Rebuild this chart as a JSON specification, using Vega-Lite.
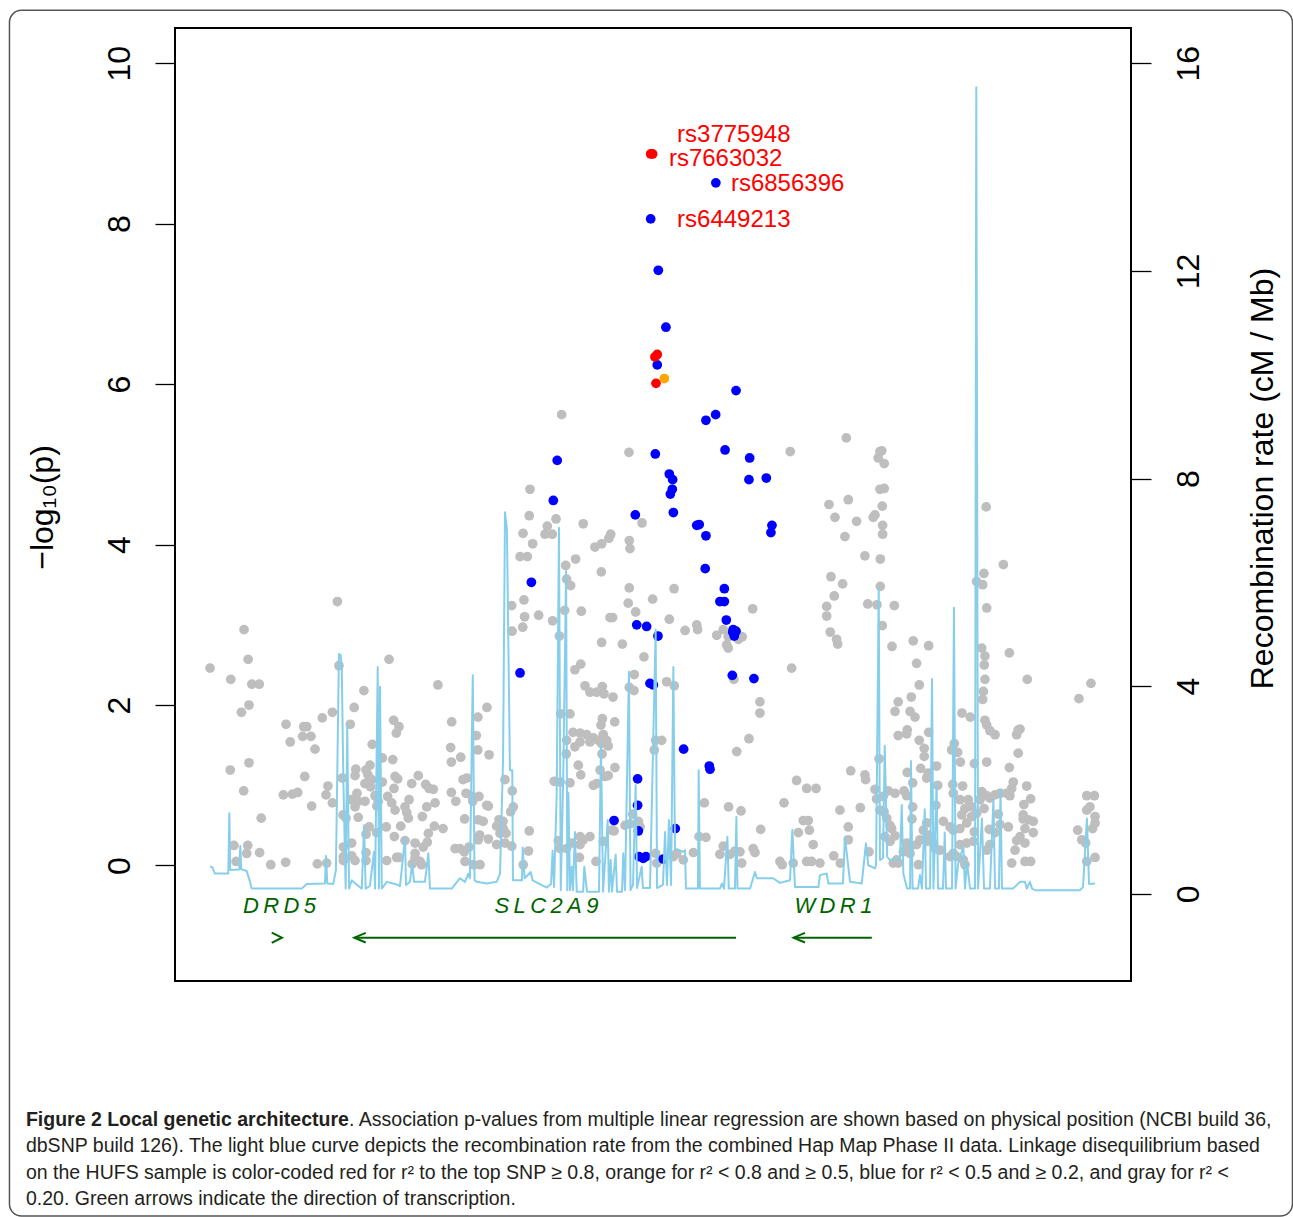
{
  "$schema": "https://vega.github.io/schema/vega-lite/v6.json",
  "width": 956,
  "height": 953,
  "autosize": {"type": "none"},
  "padding": {"left": 175, "top": 28, "right": 162, "bottom": 236},
  "background": "white",
  "datasets": {
    "snps": [
      {"kb":9425.7,"logp":3.29,"ld":"<0.2"},{"kb":9373.0,"logp":2.94,"ld":"<0.2"},{"kb":9375.3,"logp":2.57,"ld":"<0.2"},{"kb":9454.9,"logp":2.57,"ld":"<0.2"},{"kb":9353.8,"logp":2.46,"ld":"<0.2"},{"kb":9426.6,"logp":2.49,"ld":"<0.2"},{"kb":9365.5,"logp":2.32,"ld":"<0.2"},{"kb":9377.4,"logp":2.26,"ld":"<0.2"},{"kb":9381.6,"logp":2.26,"ld":"<0.2"},{"kb":9440.7,"logp":2.18,"ld":"<0.2"},
      {"kb":9482.5,"logp":2.25,"ld":"<0.2"},{"kb":9375.8,"logp":2.00,"ld":"<0.2"},{"kb":9371.5,"logp":1.91,"ld":"<0.2"},{"kb":9435.2,"logp":1.97,"ld":"<0.2"},{"kb":9422.9,"logp":1.91,"ld":"<0.2"},{"kb":9417.2,"logp":1.84,"ld":"<0.2"},{"kb":9510.2,"logp":1.97,"ld":"<0.2"},{"kb":9505.1,"logp":1.85,"ld":"<0.2"},{"kb":9396.7,"logp":1.76,"ld":"<0.2"},{"kb":9406.7,"logp":1.73,"ld":"<0.2"},
      {"kb":9408.4,"logp":1.73,"ld":"<0.2"},{"kb":9433.0,"logp":1.76,"ld":"<0.2"},{"kb":9457.5,"logp":1.81,"ld":"<0.2"},{"kb":9460.5,"logp":1.73,"ld":"<0.2"},{"kb":9459.0,"logp":1.65,"ld":"<0.2"},{"kb":9490.3,"logp":1.79,"ld":"<0.2"},{"kb":9406.1,"logp":1.61,"ld":"<0.2"},{"kb":9410.8,"logp":1.61,"ld":"<0.2"},{"kb":9399.1,"logp":1.54,"ld":"<0.2"},{"kb":9504.2,"logp":1.62,"ld":"<0.2"},
      {"kb":9413.1,"logp":1.45,"ld":"<0.2"},{"kb":9445.4,"logp":1.51,"ld":"<0.2"},{"kb":9505.0,"logp":1.44,"ld":"<0.2"},{"kb":9489.7,"logp":1.47,"ld":"<0.2"},{"kb":9511.4,"logp":1.38,"ld":"<0.2"},{"kb":9495.4,"logp":1.35,"ld":"<0.2"},{"kb":9490.1,"logp":1.29,"ld":"<0.2"},{"kb":9375.8,"logp":1.28,"ld":"<0.2"},{"kb":9365.2,"logp":1.19,"ld":"<0.2"},{"kb":9451.1,"logp":1.34,"ld":"<0.2"},
      {"kb":9457.0,"logp":1.32,"ld":"<0.2"},{"kb":9444.1,"logp":1.25,"ld":"<0.2"},{"kb":9441.9,"logp":1.19,"ld":"<0.2"},{"kb":9436.1,"logp":1.20,"ld":"<0.2"},{"kb":9435.7,"logp":1.12,"ld":"<0.2"},{"kb":9443.0,"logp":1.13,"ld":"<0.2"},{"kb":9445.1,"logp":1.07,"ld":"<0.2"},{"kb":9441.3,"logp":1.02,"ld":"<0.2"},{"kb":9444.5,"logp":0.98,"ld":"<0.2"},{"kb":9451.1,"logp":1.04,"ld":"<0.2"},
      {"kb":9407.3,"logp":1.11,"ld":"<0.2"},{"kb":9428.5,"logp":1.09,"ld":"<0.2"},{"kb":9458.3,"logp":1.11,"ld":"<0.2"},{"kb":9459.8,"logp":1.08,"ld":"<0.2"},{"kb":9457.7,"logp":0.96,"ld":"<0.2"},{"kb":9471.4,"logp":1.12,"ld":"<0.2"},{"kb":9467.7,"logp":1.02,"ld":"<0.2"},{"kb":9475.6,"logp":1.01,"ld":"<0.2"},{"kb":9479.9,"logp":0.95,"ld":"<0.2"},{"kb":9477.5,"logp":0.96,"ld":"<0.2"},
      {"kb":9372.8,"logp":0.93,"ld":"<0.2"},{"kb":9395.2,"logp":0.88,"ld":"<0.2"},{"kb":9400.3,"logp":0.89,"ld":"<0.2"},{"kb":9403.3,"logp":0.91,"ld":"<0.2"},{"kb":9420.4,"logp":0.99,"ld":"<0.2"},{"kb":9419.3,"logp":0.88,"ld":"<0.2"},{"kb":9436.8,"logp":0.90,"ld":"<0.2"},{"kb":9433.4,"logp":0.82,"ld":"<0.2"},{"kb":9437.4,"logp":0.80,"ld":"<0.2"},{"kb":9441.3,"logp":0.80,"ld":"<0.2"},
      {"kb":9435.7,"logp":0.73,"ld":"<0.2"},{"kb":9447.0,"logp":0.87,"ld":"<0.2"},{"kb":9448.8,"logp":0.80,"ld":"<0.2"},{"kb":9454.1,"logp":0.86,"ld":"<0.2"},{"kb":9456.4,"logp":0.78,"ld":"<0.2"},{"kb":9458.3,"logp":0.69,"ld":"<0.2"},{"kb":9448.0,"logp":0.74,"ld":"<0.2"},{"kb":9466.2,"logp":0.82,"ld":"<0.2"},{"kb":9463.9,"logp":0.73,"ld":"<0.2"},{"kb":9464.9,"logp":0.66,"ld":"<0.2"},
      {"kb":9465.8,"logp":0.59,"ld":"<0.2"},{"kb":9476.2,"logp":0.73,"ld":"<0.2"},{"kb":9480.9,"logp":0.78,"ld":"<0.2"},{"kb":9473.7,"logp":0.61,"ld":"<0.2"},{"kb":9490.1,"logp":0.91,"ld":"<0.2"},{"kb":9492.6,"logp":0.80,"ld":"<0.2"},{"kb":9496.7,"logp":1.07,"ld":"<0.2"},{"kb":9498.9,"logp":1.09,"ld":"<0.2"},{"kb":9498.4,"logp":0.90,"ld":"<0.2"},{"kb":9501.9,"logp":0.86,"ld":"<0.2"},
      {"kb":9505.7,"logp":0.86,"ld":"<0.2"},{"kb":9502.2,"logp":0.80,"ld":"<0.2"},{"kb":9510.1,"logp":0.75,"ld":"<0.2"},{"kb":9511.0,"logp":0.74,"ld":"<0.2"},{"kb":9411.2,"logp":0.74,"ld":"<0.2"},{"kb":9422.9,"logp":0.78,"ld":"<0.2"},{"kb":9382.7,"logp":0.59,"ld":"<0.2"},{"kb":9428.9,"logp":0.63,"ld":"<0.2"},{"kb":9430.6,"logp":0.59,"ld":"<0.2"},{"kb":9437.5,"logp":0.60,"ld":"<0.2"},
      {"kb":9443.7,"logp":0.48,"ld":"<0.2"},{"kb":9441.9,"logp":0.39,"ld":"<0.2"},{"kb":9447.9,"logp":0.41,"ld":"<0.2"},{"kb":9453.3,"logp":0.48,"ld":"<0.2"},{"kb":9461.5,"logp":0.49,"ld":"<0.2"},{"kb":9480.5,"logp":0.49,"ld":"<0.2"},{"kb":9485.4,"logp":0.46,"ld":"<0.2"},{"kb":9497.6,"logp":0.58,"ld":"<0.2"},{"kb":9505.3,"logp":0.57,"ld":"<0.2"},{"kb":9508.1,"logp":0.55,"ld":"<0.2"},
      {"kb":9517.0,"logp":0.57,"ld":"<0.2"},{"kb":9519.3,"logp":0.55,"ld":"<0.2"},{"kb":9457.9,"logp":0.36,"ld":"<0.2"},{"kb":9463.9,"logp":0.31,"ld":"<0.2"},{"kb":9469.6,"logp":0.28,"ld":"<0.2"},{"kb":9474.2,"logp":0.23,"ld":"<0.2"},{"kb":9477.1,"logp":0.40,"ld":"<0.2"},{"kb":9476.5,"logp":0.29,"ld":"<0.2"},{"kb":9506.1,"logp":0.38,"ld":"<0.2"},{"kb":9505.3,"logp":0.32,"ld":"<0.2"},
      {"kb":9511.0,"logp":0.33,"ld":"<0.2"},{"kb":9515.7,"logp":0.26,"ld":"<0.2"},{"kb":9517.6,"logp":0.40,"ld":"<0.2"},{"kb":9367.3,"logp":0.25,"ld":"<0.2"},{"kb":9375.1,"logp":0.25,"ld":"<0.2"},{"kb":9374.5,"logp":0.15,"ld":"<0.2"},{"kb":9381.8,"logp":0.16,"ld":"<0.2"},{"kb":9368.5,"logp":0.05,"ld":"<0.2"},{"kb":9388.1,"logp":0.01,"ld":"<0.2"},{"kb":9396.5,"logp":0.04,"ld":"<0.2"},
      {"kb":9414.4,"logp":0.02,"ld":"<0.2"},{"kb":9419.7,"logp":0.03,"ld":"<0.2"},{"kb":9429.1,"logp":0.23,"ld":"<0.2"},{"kb":9433.8,"logp":0.28,"ld":"<0.2"},{"kb":9429.1,"logp":0.11,"ld":"<0.2"},{"kb":9433.8,"logp":0.12,"ld":"<0.2"},{"kb":9429.1,"logp":0.06,"ld":"<0.2"},{"kb":9435.7,"logp":0.06,"ld":"<0.2"},{"kb":9441.9,"logp":0.16,"ld":"<0.2"},{"kb":9441.9,"logp":0.06,"ld":"<0.2"},
      {"kb":9453.6,"logp":0.06,"ld":"<0.2"},{"kb":9459.2,"logp":0.10,"ld":"<0.2"},{"kb":9460.5,"logp":0.10,"ld":"<0.2"},{"kb":9469.6,"logp":0.15,"ld":"<0.2"},{"kb":9469.6,"logp":0.09,"ld":"<0.2"},{"kb":9472.4,"logp":0.05,"ld":"<0.2"},{"kb":9473.3,"logp":0.01,"ld":"<0.2"},{"kb":9468.0,"logp":0.02,"ld":"<0.2"},{"kb":9492.2,"logp":0.21,"ld":"<0.2"},{"kb":9495.0,"logp":0.21,"ld":"<0.2"},
      {"kb":9497.4,"logp":0.17,"ld":"<0.2"},{"kb":9500.1,"logp":0.23,"ld":"<0.2"},{"kb":9497.8,"logp":0.05,"ld":"<0.2"},{"kb":9502.5,"logp":0.01,"ld":"<0.2"},{"kb":9506.3,"logp":0.01,"ld":"<0.2"},
      {"kb":9552.4,"logp":5.62,"ld":"<0.2"},{"kb":9590.4,"logp":5.15,"ld":"<0.2"},{"kb":9681.5,"logp":5.16,"ld":"<0.2"},{"kb":9534.5,"logp":4.69,"ld":"<0.2"},{"kb":9534.1,"logp":4.36,"ld":"<0.2"},{"kb":9549.2,"logp":4.32,"ld":"<0.2"},{"kb":9544.3,"logp":4.23,"ld":"<0.2"},{"kb":9543.0,"logp":4.13,"ld":"<0.2"},{"kb":9547.1,"logp":4.13,"ld":"<0.2"},{"kb":9530.6,"logp":4.14,"ld":"<0.2"},
      {"kb":9536.0,"logp":4.01,"ld":"<0.2"},{"kb":9564.6,"logp":4.26,"ld":"<0.2"},{"kb":9580.1,"logp":4.13,"ld":"<0.2"},{"kb":9579.1,"logp":4.08,"ld":"<0.2"},{"kb":9575.0,"logp":4.01,"ld":"<0.2"},{"kb":9571.2,"logp":3.97,"ld":"<0.2"},{"kb":9590.6,"logp":4.05,"ld":"<0.2"},{"kb":9591.0,"logp":3.95,"ld":"<0.2"},{"kb":9597.8,"logp":4.27,"ld":"<0.2"},{"kb":9528.9,"logp":3.85,"ld":"<0.2"},
      {"kb":9533.0,"logp":3.85,"ld":"<0.2"},{"kb":9560.3,"logp":3.82,"ld":"<0.2"},{"kb":9554.7,"logp":3.74,"ld":"<0.2"},{"kb":9574.8,"logp":3.66,"ld":"<0.2"},{"kb":9555.2,"logp":3.57,"ld":"<0.2"},{"kb":9557.5,"logp":3.49,"ld":"<0.2"},{"kb":9590.6,"logp":3.46,"ld":"<0.2"},{"kb":9615.9,"logp":3.45,"ld":"<0.2"},{"kb":9524.2,"logp":3.24,"ld":"<0.2"},{"kb":9531.1,"logp":3.31,"ld":"<0.2"},
      {"kb":9590.0,"logp":3.27,"ld":"<0.2"},{"kb":9594.2,"logp":3.16,"ld":"<0.2"},{"kb":9603.8,"logp":3.32,"ld":"<0.2"},{"kb":9563.5,"logp":3.17,"ld":"<0.2"},{"kb":9554.1,"logp":3.18,"ld":"<0.2"},{"kb":9531.5,"logp":3.10,"ld":"<0.2"},{"kb":9530.4,"logp":2.97,"ld":"<0.2"},{"kb":9539.4,"logp":3.12,"ld":"<0.2"},{"kb":9547.3,"logp":3.05,"ld":"<0.2"},{"kb":9524.4,"logp":2.92,"ld":"<0.2"},
      {"kb":9551.1,"logp":2.86,"ld":"<0.2"},{"kb":9579.7,"logp":3.09,"ld":"<0.2"},{"kb":9581.2,"logp":3.09,"ld":"<0.2"},{"kb":9613.2,"logp":3.07,"ld":"<0.2"},{"kb":9622.1,"logp":2.93,"ld":"<0.2"},{"kb":9628.7,"logp":3.00,"ld":"<0.2"},{"kb":9629.2,"logp":2.94,"ld":"<0.2"},{"kb":9640.0,"logp":2.87,"ld":"<0.2"},{"kb":9643.7,"logp":2.94,"ld":"<0.2"},{"kb":9646.5,"logp":2.85,"ld":"<0.2"},
      {"kb":9645.6,"logp":2.75,"ld":"<0.2"},{"kb":9646.5,"logp":2.71,"ld":"<0.2"},{"kb":9654.4,"logp":2.85,"ld":"<0.2"},{"kb":9652.2,"logp":2.82,"ld":"<0.2"},{"kb":9660.3,"logp":3.20,"ld":"<0.2"},{"kb":9575.0,"logp":2.78,"ld":"<0.2"},{"kb":9586.7,"logp":2.76,"ld":"<0.2"},{"kb":9598.9,"logp":2.60,"ld":"<0.2"},{"kb":9563.2,"logp":2.51,"ld":"<0.2"},{"kb":9559.9,"logp":2.44,"ld":"<0.2"},
      {"kb":9593.4,"logp":2.38,"ld":"<0.2"},{"kb":9590.6,"logp":2.22,"ld":"<0.2"},{"kb":9593.3,"logp":2.18,"ld":"<0.2"},{"kb":9611.7,"logp":2.29,"ld":"<0.2"},{"kb":9616.0,"logp":2.24,"ld":"<0.2"},{"kb":9682.3,"logp":2.46,"ld":"<0.2"},{"kb":9649.7,"logp":2.32,"ld":"<0.2"},{"kb":9565.6,"logp":2.24,"ld":"<0.2"},{"kb":9568.4,"logp":2.16,"ld":"<0.2"},{"kb":9572.2,"logp":2.16,"ld":"<0.2"},
      {"kb":9575.4,"logp":2.23,"ld":"<0.2"},{"kb":9576.3,"logp":2.14,"ld":"<0.2"},{"kb":9581.4,"logp":2.10,"ld":"<0.2"},{"kb":9551.9,"logp":1.89,"ld":"<0.2"},{"kb":9557.1,"logp":1.89,"ld":"<0.2"},{"kb":9575.4,"logp":1.83,"ld":"<0.2"},{"kb":9574.6,"logp":1.75,"ld":"<0.2"},{"kb":9582.4,"logp":1.79,"ld":"<0.2"},{"kb":9558.8,"logp":1.66,"ld":"<0.2"},{"kb":9562.8,"logp":1.65,"ld":"<0.2"},
      {"kb":9566.5,"logp":1.63,"ld":"<0.2"},{"kb":9570.3,"logp":1.59,"ld":"<0.2"},{"kb":9573.1,"logp":1.56,"ld":"<0.2"},{"kb":9575.9,"logp":1.63,"ld":"<0.2"},{"kb":9577.8,"logp":1.56,"ld":"<0.2"},{"kb":9578.7,"logp":1.49,"ld":"<0.2"},{"kb":9575.0,"logp":1.52,"ld":"<0.2"},{"kb":9568.4,"logp":1.54,"ld":"<0.2"},{"kb":9562.8,"logp":1.54,"ld":"<0.2"},{"kb":9555.2,"logp":1.56,"ld":"<0.2"},
      {"kb":9559.9,"logp":1.48,"ld":"<0.2"},{"kb":9664.4,"logp":2.04,"ld":"<0.2"},{"kb":9664.4,"logp":1.90,"ld":"<0.2"},{"kb":9658.2,"logp":1.58,"ld":"<0.2"},{"kb":9651.3,"logp":1.42,"ld":"<0.2"},{"kb":9605.5,"logp":1.56,"ld":"<0.2"},{"kb":9608.9,"logp":1.56,"ld":"<0.2"},{"kb":9604.7,"logp":1.44,"ld":"<0.2"},{"kb":9555.0,"logp":1.39,"ld":"<0.2"},{"kb":9575.2,"logp":1.39,"ld":"<0.2"},
      {"kb":9561.8,"logp":1.25,"ld":"<0.2"},{"kb":9563.2,"logp":1.13,"ld":"<0.2"},{"kb":9574.1,"logp":1.19,"ld":"<0.2"},{"kb":9576.9,"logp":1.11,"ld":"<0.2"},{"kb":9578.7,"logp":1.12,"ld":"<0.2"},{"kb":9582.5,"logp":1.22,"ld":"<0.2"},{"kb":9570.3,"logp":1.00,"ld":"<0.2"},{"kb":9572.2,"logp":1.02,"ld":"<0.2"},{"kb":9548.2,"logp":1.05,"ld":"<0.2"},{"kb":9551.5,"logp":1.04,"ld":"<0.2"},
      {"kb":9557.1,"logp":1.03,"ld":"<0.2"},{"kb":9520.4,"logp":1.07,"ld":"<0.2"},{"kb":9524.5,"logp":0.93,"ld":"<0.2"},{"kb":9525.1,"logp":0.73,"ld":"<0.2"},{"kb":9523.6,"logp":0.67,"ld":"<0.2"},{"kb":9515.7,"logp":0.49,"ld":"<0.2"},{"kb":9519.4,"logp":0.46,"ld":"<0.2"},{"kb":9521.0,"logp":0.40,"ld":"<0.2"},{"kb":9520.4,"logp":0.28,"ld":"<0.2"},{"kb":9524.2,"logp":0.24,"ld":"<0.2"},
      {"kb":9534.1,"logp":0.43,"ld":"<0.2"},{"kb":9533.6,"logp":0.18,"ld":"<0.2"},{"kb":9530.7,"logp":0.01,"ld":"<0.2"},{"kb":9550.5,"logp":0.31,"ld":"<0.2"},{"kb":9551.5,"logp":0.21,"ld":"<0.2"},{"kb":9555.2,"logp":0.21,"ld":"<0.2"},{"kb":9558.1,"logp":0.28,"ld":"<0.2"},{"kb":9562.8,"logp":0.36,"ld":"<0.2"},{"kb":9564.6,"logp":0.32,"ld":"<0.2"},{"kb":9568.4,"logp":0.36,"ld":"<0.2"},
      {"kb":9562.8,"logp":0.26,"ld":"<0.2"},{"kb":9562.4,"logp":0.10,"ld":"<0.2"},{"kb":9571.8,"logp":0.05,"ld":"<0.2"},{"kb":9575.9,"logp":0.30,"ld":"<0.2"},{"kb":9580.7,"logp":0.44,"ld":"<0.2"},{"kb":9582.0,"logp":0.43,"ld":"<0.2"},{"kb":9588.2,"logp":0.50,"ld":"<0.2"},{"kb":9591.0,"logp":0.52,"ld":"<0.2"},{"kb":9592.5,"logp":0.64,"ld":"<0.2"},{"kb":9595.7,"logp":0.55,"ld":"<0.2"},
      {"kb":9596.7,"logp":0.48,"ld":"<0.2"},{"kb":9605.5,"logp":0.15,"ld":"<0.2"},{"kb":9606.1,"logp":0.03,"ld":"<0.2"},{"kb":9615.5,"logp":0.11,"ld":"<0.2"},{"kb":9621.1,"logp":0.07,"ld":"<0.2"},{"kb":9617.4,"logp":0.15,"ld":"<0.2"},{"kb":9626.8,"logp":0.16,"ld":"<0.2"},{"kb":9633.0,"logp":0.78,"ld":"<0.2"},{"kb":9630.0,"logp":0.36,"ld":"<0.2"},{"kb":9633.9,"logp":0.35,"ld":"<0.2"},
      {"kb":9643.7,"logp":0.24,"ld":"<0.2"},{"kb":9641.8,"logp":0.14,"ld":"<0.2"},{"kb":9647.5,"logp":0.14,"ld":"<0.2"},{"kb":9650.3,"logp":0.18,"ld":"<0.2"},{"kb":9653.1,"logp":0.17,"ld":"<0.2"},{"kb":9654.1,"logp":0.03,"ld":"<0.2"},{"kb":9660.6,"logp":0.21,"ld":"<0.2"},{"kb":9661.6,"logp":0.16,"ld":"<0.2"},{"kb":9646.7,"logp":0.73,"ld":"<0.2"},{"kb":9653.7,"logp":0.68,"ld":"<0.2"},
      {"kb":9664.8,"logp":0.45,"ld":"<0.2"},{"kb":9678.0,"logp":0.78,"ld":"<0.2"},{"kb":9685.1,"logp":1.06,"ld":"<0.2"},{"kb":9690.8,"logp":0.96,"ld":"<0.2"},{"kb":9696.1,"logp":0.96,"ld":"<0.2"},{"kb":9688.9,"logp":0.56,"ld":"<0.2"},{"kb":9691.7,"logp":0.56,"ld":"<0.2"},{"kb":9692.3,"logp":0.44,"ld":"<0.2"},{"kb":9694.5,"logp":0.26,"ld":"<0.2"},{"kb":9675.7,"logp":0.05,"ld":"<0.2"},
      {"kb":9677.0,"logp":0.01,"ld":"<0.2"},{"kb":9683.2,"logp":0.03,"ld":"<0.2"},{"kb":9690.8,"logp":0.05,"ld":"<0.2"},{"kb":9693.6,"logp":0.05,"ld":"<0.2"},{"kb":9686.1,"logp":0.41,"ld":"<0.2"},
      {"kb":9713.2,"logp":5.33,"ld":"<0.2"},{"kb":9732.2,"logp":5.16,"ld":"<0.2"},{"kb":9731.2,"logp":5.08,"ld":"<0.2"},{"kb":9734.6,"logp":5.01,"ld":"<0.2"},{"kb":9733.2,"logp":5.17,"ld":"<0.2"},{"kb":9732.2,"logp":4.69,"ld":"<0.2"},{"kb":9734.6,"logp":4.70,"ld":"<0.2"},{"kb":9703.4,"logp":4.50,"ld":"<0.2"},{"kb":9714.3,"logp":4.56,"ld":"<0.2"},{"kb":9706.8,"logp":4.34,"ld":"<0.2"},
      {"kb":9719.0,"logp":4.29,"ld":"<0.2"},{"kb":9733.5,"logp":4.48,"ld":"<0.2"},{"kb":9729.4,"logp":4.37,"ld":"<0.2"},{"kb":9728.4,"logp":4.34,"ld":"<0.2"},{"kb":9733.7,"logp":4.24,"ld":"<0.2"},{"kb":9733.7,"logp":4.13,"ld":"<0.2"},{"kb":9712.4,"logp":4.10,"ld":"<0.2"},{"kb":9792.2,"logp":4.47,"ld":"<0.2"},{"kb":9723.7,"logp":3.86,"ld":"<0.2"},{"kb":9732.4,"logp":3.82,"ld":"<0.2"},
      {"kb":9704.5,"logp":3.60,"ld":"<0.2"},{"kb":9711.1,"logp":3.51,"ld":"<0.2"},{"kb":9732.4,"logp":3.48,"ld":"<0.2"},{"kb":9706.4,"logp":3.36,"ld":"<0.2"},{"kb":9702.1,"logp":3.23,"ld":"<0.2"},{"kb":9702.1,"logp":3.11,"ld":"<0.2"},{"kb":9725.3,"logp":3.26,"ld":"<0.2"},{"kb":9730.5,"logp":3.25,"ld":"<0.2"},{"kb":9740.3,"logp":3.24,"ld":"<0.2"},{"kb":9733.5,"logp":2.99,"ld":"<0.2"},
      {"kb":9704.1,"logp":2.91,"ld":"<0.2"},{"kb":9707.7,"logp":2.82,"ld":"<0.2"},{"kb":9708.3,"logp":2.76,"ld":"<0.2"},{"kb":9801.9,"logp":3.75,"ld":"<0.2"},{"kb":9790.9,"logp":3.64,"ld":"<0.2"},{"kb":9786.8,"logp":3.54,"ld":"<0.2"},{"kb":9790.2,"logp":3.50,"ld":"<0.2"},{"kb":9792.5,"logp":3.21,"ld":"<0.2"},{"kb":9739.0,"logp":2.73,"ld":"<0.2"},{"kb":9751.0,"logp":2.80,"ld":"<0.2"},
      {"kb":9759.7,"logp":2.74,"ld":"<0.2"},{"kb":9752.9,"logp":2.52,"ld":"<0.2"},{"kb":9805.3,"logp":2.65,"ld":"<0.2"},{"kb":9789.7,"logp":2.71,"ld":"<0.2"},{"kb":9791.5,"logp":2.61,"ld":"<0.2"},{"kb":9791.1,"logp":2.50,"ld":"<0.2"},{"kb":9791.5,"logp":2.32,"ld":"<0.2"},{"kb":9790.6,"logp":2.17,"ld":"<0.2"},{"kb":9790.2,"logp":2.07,"ld":"<0.2"},{"kb":9815.4,"logp":2.32,"ld":"<0.2"},
      {"kb":9754.4,"logp":2.25,"ld":"<0.2"},{"kb":9749.9,"logp":2.10,"ld":"<0.2"},{"kb":9742.5,"logp":2.04,"ld":"<0.2"},{"kb":9740.7,"logp":1.92,"ld":"<0.2"},{"kb":9749.2,"logp":1.92,"ld":"<0.2"},{"kb":9752.0,"logp":1.85,"ld":"<0.2"},{"kb":9778.5,"logp":1.90,"ld":"<0.2"},{"kb":9783.2,"logp":1.85,"ld":"<0.2"},{"kb":9844.6,"logp":2.08,"ld":"<0.2"},{"kb":9851.4,"logp":2.27,"ld":"<0.2"},
      {"kb":9742.5,"logp":1.62,"ld":"<0.2"},{"kb":9747.6,"logp":1.69,"ld":"<0.2"},{"kb":9747.3,"logp":1.64,"ld":"<0.2"},{"kb":9759.7,"logp":1.66,"ld":"<0.2"},{"kb":9754.4,"logp":1.56,"ld":"<0.2"},{"kb":9791.5,"logp":1.81,"ld":"<0.2"},{"kb":9792.5,"logp":1.75,"ld":"<0.2"},{"kb":9794.3,"logp":1.68,"ld":"<0.2"},{"kb":9797.2,"logp":1.63,"ld":"<0.2"},{"kb":9810.3,"logp":1.69,"ld":"<0.2"},
      {"kb":9809.4,"logp":1.63,"ld":"<0.2"},{"kb":9811.3,"logp":1.70,"ld":"<0.2"},{"kb":9810.3,"logp":1.40,"ld":"<0.2"},{"kb":9757.2,"logp":1.46,"ld":"<0.2"},{"kb":9757.2,"logp":1.36,"ld":"<0.2"},{"kb":9774.2,"logp":1.52,"ld":"<0.2"},{"kb":9772.7,"logp":1.44,"ld":"<0.2"},{"kb":9776.1,"logp":1.41,"ld":"<0.2"},{"kb":9777.6,"logp":1.29,"ld":"<0.2"},{"kb":9785.5,"logp":1.27,"ld":"<0.2"},
      {"kb":9792.5,"logp":1.29,"ld":"<0.2"},{"kb":9731.7,"logp":1.33,"ld":"<0.2"},{"kb":9764.2,"logp":1.24,"ld":"<0.2"},{"kb":9755.2,"logp":1.21,"ld":"<0.2"},{"kb":9747.6,"logp":1.16,"ld":"<0.2"},{"kb":9758.6,"logp":1.09,"ld":"<0.2"},{"kb":9759.5,"logp":1.15,"ld":"<0.2"},{"kb":9805.3,"logp":1.22,"ld":"<0.2"},{"kb":9715.7,"logp":1.18,"ld":"<0.2"},{"kb":9723.7,"logp":1.13,"ld":"<0.2"},
      {"kb":9724.1,"logp":1.07,"ld":"<0.2"},{"kb":9709.6,"logp":0.69,"ld":"<0.2"},{"kb":9721.1,"logp":0.72,"ld":"<0.2"},{"kb":9729.4,"logp":0.95,"ld":"<0.2"},{"kb":9730.3,"logp":0.83,"ld":"<0.2"},{"kb":9736.9,"logp":0.93,"ld":"<0.2"},{"kb":9740.7,"logp":0.90,"ld":"<0.2"},{"kb":9745.8,"logp":0.93,"ld":"<0.2"},{"kb":9747.3,"logp":0.87,"ld":"<0.2"},{"kb":9750.7,"logp":1.03,"ld":"<0.2"},
      {"kb":9750.7,"logp":0.73,"ld":"<0.2"},{"kb":9750.3,"logp":0.58,"ld":"<0.2"},{"kb":9764.8,"logp":1.00,"ld":"<0.2"},{"kb":9763.8,"logp":0.75,"ld":"<0.2"},{"kb":9773.3,"logp":1.01,"ld":"<0.2"},{"kb":9773.6,"logp":0.90,"ld":"<0.2"},{"kb":9778.9,"logp":0.99,"ld":"<0.2"},{"kb":9777.4,"logp":0.82,"ld":"<0.2"},{"kb":9782.1,"logp":0.82,"ld":"<0.2"},{"kb":9784.0,"logp":0.73,"ld":"<0.2"},
      {"kb":9780.2,"logp":0.71,"ld":"<0.2"},{"kb":9778.4,"logp":0.63,"ld":"<0.2"},{"kb":9784.0,"logp":0.61,"ld":"<0.2"},{"kb":9786.8,"logp":0.65,"ld":"<0.2"},{"kb":9781.2,"logp":0.53,"ld":"<0.2"},{"kb":9785.5,"logp":0.42,"ld":"<0.2"},{"kb":9789.7,"logp":0.92,"ld":"<0.2"},{"kb":9792.5,"logp":0.87,"ld":"<0.2"},{"kb":9791.0,"logp":0.71,"ld":"<0.2"},{"kb":9788.7,"logp":0.82,"ld":"<0.2"},
      {"kb":9794.3,"logp":0.84,"ld":"<0.2"},{"kb":9797.2,"logp":0.88,"ld":"<0.2"},{"kb":9800.0,"logp":0.90,"ld":"<0.2"},{"kb":9803.8,"logp":0.90,"ld":"<0.2"},{"kb":9805.6,"logp":0.87,"ld":"<0.2"},{"kb":9807.5,"logp":1.04,"ld":"<0.2"},{"kb":9806.6,"logp":0.96,"ld":"<0.2"},{"kb":9815.1,"logp":0.99,"ld":"<0.2"},{"kb":9817.3,"logp":0.83,"ld":"<0.2"},{"kb":9813.5,"logp":0.76,"ld":"<0.2"},
      {"kb":9813.1,"logp":0.63,"ld":"<0.2"},{"kb":9813.1,"logp":0.58,"ld":"<0.2"},{"kb":9816.0,"logp":0.57,"ld":"<0.2"},{"kb":9818.8,"logp":0.55,"ld":"<0.2"},{"kb":9818.8,"logp":0.41,"ld":"<0.2"},{"kb":9814.1,"logp":0.46,"ld":"<0.2"},{"kb":9811.3,"logp":0.36,"ld":"<0.2"},{"kb":9809.4,"logp":0.31,"ld":"<0.2"},{"kb":9808.5,"logp":0.19,"ld":"<0.2"},{"kb":9814.1,"logp":0.28,"ld":"<0.2"},
      {"kb":9804.7,"logp":0.48,"ld":"<0.2"},{"kb":9800.0,"logp":0.51,"ld":"<0.2"},{"kb":9799.0,"logp":0.64,"ld":"<0.2"},{"kb":9793.9,"logp":0.45,"ld":"<0.2"},{"kb":9797.2,"logp":0.41,"ld":"<0.2"},{"kb":9794.3,"logp":0.26,"ld":"<0.2"},{"kb":9792.5,"logp":0.19,"ld":"<0.2"},{"kb":9768.0,"logp":0.55,"ld":"<0.2"},{"kb":9771.8,"logp":0.48,"ld":"<0.2"},{"kb":9773.6,"logp":0.44,"ld":"<0.2"},
      {"kb":9777.4,"logp":0.46,"ld":"<0.2"},{"kb":9781.2,"logp":0.28,"ld":"<0.2"},{"kb":9777.4,"logp":0.26,"ld":"<0.2"},{"kb":9785.0,"logp":0.30,"ld":"<0.2"},{"kb":9773.6,"logp":0.15,"ld":"<0.2"},{"kb":9775.5,"logp":0.11,"ld":"<0.2"},{"kb":9779.3,"logp":0.07,"ld":"<0.2"},{"kb":9780.2,"logp":0.01,"ld":"<0.2"},{"kb":9771.8,"logp":0.11,"ld":"<0.2"},{"kb":9758.6,"logp":0.53,"ld":"<0.2"},
      {"kb":9756.7,"logp":0.44,"ld":"<0.2"},{"kb":9759.5,"logp":0.38,"ld":"<0.2"},{"kb":9747.3,"logp":0.28,"ld":"<0.2"},{"kb":9749.2,"logp":0.23,"ld":"<0.2"},{"kb":9752.9,"logp":0.26,"ld":"<0.2"},{"kb":9754.8,"logp":0.32,"ld":"<0.2"},{"kb":9758.6,"logp":0.30,"ld":"<0.2"},{"kb":9762.3,"logp":0.28,"ld":"<0.2"},{"kb":9763.3,"logp":0.21,"ld":"<0.2"},{"kb":9766.1,"logp":0.19,"ld":"<0.2"},
      {"kb":9749.2,"logp":0.15,"ld":"<0.2"},{"kb":9745.4,"logp":0.17,"ld":"<0.2"},{"kb":9753.9,"logp":0.01,"ld":"<0.2"},{"kb":9734.5,"logp":0.67,"ld":"<0.2"},{"kb":9736.0,"logp":0.59,"ld":"<0.2"},{"kb":9737.9,"logp":0.50,"ld":"<0.2"},{"kb":9738.8,"logp":0.46,"ld":"<0.2"},{"kb":9735.0,"logp":0.36,"ld":"<0.2"},{"kb":9740.7,"logp":0.37,"ld":"<0.2"},{"kb":9737.9,"logp":0.30,"ld":"<0.2"},
      {"kb":9739.7,"logp":0.03,"ld":"<0.2"},{"kb":9742.5,"logp":0.03,"ld":"<0.2"},{"kb":9714.3,"logp":0.48,"ld":"<0.2"},{"kb":9714.3,"logp":0.32,"ld":"<0.2"},{"kb":9706.1,"logp":0.12,"ld":"<0.2"},{"kb":9709.8,"logp":0.03,"ld":"<0.2"},{"kb":9726.0,"logp":0.17,"ld":"<0.2"},{"kb":9698.3,"logp":0.03,"ld":"<0.2"},{"kb":9806.6,"logp":0.03,"ld":"<0.2"},{"kb":9814.1,"logp":0.05,"ld":"<0.2"},
      {"kb":9817.3,"logp":0.05,"ld":"<0.2"},{"kb":9849.0,"logp":0.87,"ld":"<0.2"},{"kb":9853.3,"logp":0.87,"ld":"<0.2"},{"kb":9850.8,"logp":0.73,"ld":"<0.2"},{"kb":9849.0,"logp":0.69,"ld":"<0.2"},{"kb":9853.7,"logp":0.61,"ld":"<0.2"},{"kb":9853.7,"logp":0.53,"ld":"<0.2"},{"kb":9852.3,"logp":0.46,"ld":"<0.2"},{"kb":9843.9,"logp":0.44,"ld":"<0.2"},{"kb":9846.2,"logp":0.32,"ld":"<0.2"},
      {"kb":9848.4,"logp":0.28,"ld":"<0.2"},{"kb":9853.7,"logp":0.10,"ld":"<0.2"},{"kb":9849.0,"logp":0.05,"ld":"<0.2"},{"kb":9734.0,"logp":0.86,"ld":"<0.2"},{"kb":9732.2,"logp":0.69,"ld":"<0.2"},{"kb":9741.6,"logp":0.07,"ld":"<0.2"},
      {"kb":9639.5,"logp":8.51,"ld":"0.2-0.5"},{"kb":9602.7,"logp":8.06,"ld":"0.2-0.5"},{"kb":9607.0,"logp":7.42,"ld":"0.2-0.5"},{"kb":9611.3,"logp":6.71,"ld":"0.2-0.5"},{"kb":9606.4,"logp":6.24,"ld":"0.2-0.5"},{"kb":9650.9,"logp":5.92,"ld":"0.2-0.5"},{"kb":9633.9,"logp":5.55,"ld":"0.2-0.5"},{"kb":9639.4,"logp":5.62,"ld":"0.2-0.5"},{"kb":9549.9,"logp":5.05,"ld":"0.2-0.5"},{"kb":9605.3,"logp":5.13,"ld":"0.2-0.5"},
      {"kb":9644.7,"logp":5.18,"ld":"0.2-0.5"},{"kb":9658.6,"logp":5.08,"ld":"0.2-0.5"},{"kb":9658.2,"logp":4.81,"ld":"0.2-0.5"},{"kb":9668.0,"logp":4.83,"ld":"0.2-0.5"},{"kb":9613.2,"logp":4.88,"ld":"0.2-0.5"},{"kb":9615.1,"logp":4.81,"ld":"0.2-0.5"},{"kb":9614.9,"logp":4.69,"ld":"0.2-0.5"},{"kb":9613.8,"logp":4.63,"ld":"0.2-0.5"},{"kb":9547.7,"logp":4.55,"ld":"0.2-0.5"},{"kb":9594.0,"logp":4.37,"ld":"0.2-0.5"},
      {"kb":9615.5,"logp":4.40,"ld":"0.2-0.5"},{"kb":9628.7,"logp":4.24,"ld":"0.2-0.5"},{"kb":9630.1,"logp":4.25,"ld":"0.2-0.5"},{"kb":9633.9,"logp":4.11,"ld":"0.2-0.5"},{"kb":9671.2,"logp":4.24,"ld":"0.2-0.5"},{"kb":9670.6,"logp":4.15,"ld":"0.2-0.5"},{"kb":9633.5,"logp":3.70,"ld":"0.2-0.5"},{"kb":9535.3,"logp":3.53,"ld":"0.2-0.5"},{"kb":9644.3,"logp":3.45,"ld":"0.2-0.5"},{"kb":9641.8,"logp":3.29,"ld":"0.2-0.5"},
      {"kb":9644.3,"logp":3.29,"ld":"0.2-0.5"},{"kb":9645.4,"logp":3.06,"ld":"0.2-0.5"},{"kb":9649.3,"logp":2.94,"ld":"0.2-0.5"},{"kb":9650.9,"logp":2.92,"ld":"0.2-0.5"},{"kb":9649.9,"logp":2.86,"ld":"0.2-0.5"},{"kb":9649.0,"logp":2.91,"ld":"0.2-0.5"},{"kb":9594.8,"logp":3.00,"ld":"0.2-0.5"},{"kb":9600.4,"logp":2.98,"ld":"0.2-0.5"},{"kb":9606.8,"logp":2.86,"ld":"0.2-0.5"},{"kb":9528.9,"logp":2.40,"ld":"0.2-0.5"},
      {"kb":9602.3,"logp":2.27,"ld":"0.2-0.5"},{"kb":9604.2,"logp":2.25,"ld":"0.2-0.5"},{"kb":9648.8,"logp":2.37,"ld":"0.2-0.5"},{"kb":9661.0,"logp":2.33,"ld":"0.2-0.5"},{"kb":9621.3,"logp":1.45,"ld":"0.2-0.5"},{"kb":9635.8,"logp":1.24,"ld":"0.2-0.5"},{"kb":9636.2,"logp":1.20,"ld":"0.2-0.5"},{"kb":9595.3,"logp":1.08,"ld":"0.2-0.5"},{"kb":9595.3,"logp":0.75,"ld":"0.2-0.5"},{"kb":9582.0,"logp":0.56,"ld":"0.2-0.5"},
      {"kb":9595.7,"logp":0.43,"ld":"0.2-0.5"},{"kb":9616.6,"logp":0.46,"ld":"0.2-0.5"},{"kb":9596.1,"logp":0.11,"ld":"0.2-0.5"},{"kb":9598.5,"logp":0.09,"ld":"0.2-0.5"},{"kb":9600.0,"logp":0.11,"ld":"0.2-0.5"},{"kb":9609.8,"logp":0.08,"ld":"0.2-0.5"},
      {"kb":9610.4,"logp":6.07,"ld":"0.5-0.8"},
      {"kb":9602.7,"logp":8.87,"ld":">=0.8"},{"kb":9603.8,"logp":8.87,"ld":">=0.8"},{"kb":9606.4,"logp":6.37,"ld":">=0.8"},{"kb":9605.1,"logp":6.34,"ld":">=0.8"},{"kb":9605.7,"logp":6.01,"ld":">=0.8"}
    ],
    "recomb": [
      {"kb":9353.8,"rate":0.53},{"kb":9355.1,"rate":0.51},{"kb":9356.6,"rate":0.39},{"kb":9364.1,"rate":0.39},{"kb":9364.7,"rate":1.55},{"kb":9365.2,"rate":0.46},{"kb":9370.3,"rate":0.47},{"kb":9370.9,"rate":0.92},{"kb":9371.4,"rate":0.47},{"kb":9374.5,"rate":0.44},
      {"kb":9376.4,"rate":0.23},{"kb":9377.3,"rate":0.10},{"kb":9405.6,"rate":0.10},{"kb":9408.4,"rate":0.19},{"kb":9418.7,"rate":0.20},{"kb":9419.3,"rate":0.73},{"kb":9420.0,"rate":0.20},{"kb":9423.4,"rate":0.19},{"kb":9424.9,"rate":0.46},{"kb":9426.6,"rate":4.62},
      {"kb":9427.6,"rate":4.60},{"kb":9428.2,"rate":4.37},{"kb":9429.1,"rate":2.19},{"kb":9430.4,"rate":0.10},{"kb":9431.3,"rate":3.25},{"kb":9432.3,"rate":0.10},{"kb":9433.8,"rate":0.26},{"kb":9436.2,"rate":0.19},{"kb":9439.5,"rate":0.10},{"kb":9440.8,"rate":1.32},
      {"kb":9441.7,"rate":0.10},{"kb":9444.1,"rate":0.15},{"kb":9446.4,"rate":0.81},{"kb":9447.0,"rate":0.10},{"kb":9448.5,"rate":4.37},{"kb":9449.2,"rate":0.10},{"kb":9449.8,"rate":3.99},{"kb":9450.8,"rate":0.10},{"kb":9453.6,"rate":0.23},{"kb":9458.3,"rate":0.19},
      {"kb":9461.1,"rate":0.15},{"kb":9463.9,"rate":1.07},{"kb":9464.5,"rate":0.17},{"kb":9466.7,"rate":0.23},{"kb":9468.0,"rate":0.59},{"kb":9469.0,"rate":0.23},{"kb":9475.2,"rate":0.23},{"kb":9477.1,"rate":0.78},{"kb":9478.0,"rate":0.10},{"kb":9490.3,"rate":0.10},
      {"kb":9495.0,"rate":0.30},{"kb":9497.8,"rate":0.23},{"kb":9499.7,"rate":0.39},{"kb":9500.6,"rate":0.30},{"kb":9502.2,"rate":4.21},{"kb":9503.2,"rate":0.26},{"kb":9504.4,"rate":0.23},{"kb":9510.1,"rate":0.20},{"kb":9515.7,"rate":0.23},{"kb":9517.6,"rate":0.39},
      {"kb":9519.3,"rate":2.58},{"kb":9520.4,"rate":7.35},{"kb":9521.5,"rate":7.01},{"kb":9523.2,"rate":2.38},{"kb":9524.5,"rate":2.38},{"kb":9524.9,"rate":0.26},{"kb":9530.0,"rate":0.26},{"kb":9530.4,"rate":0.89},{"kb":9531.5,"rate":0.30},{"kb":9534.9,"rate":0.42},
      {"kb":9536.0,"rate":0.26},{"kb":9544.0,"rate":0.12},{"kb":9546.4,"rate":0.19},{"kb":9547.3,"rate":0.83},{"kb":9548.1,"rate":0.13},{"kb":9549.6,"rate":1.93},{"kb":9550.9,"rate":7.05},{"kb":9551.9,"rate":0.07},{"kb":9553.3,"rate":2.25},{"kb":9554.9,"rate":6.22},
      {"kb":9555.6,"rate":0.07},{"kb":9556.2,"rate":1.94},{"kb":9557.1,"rate":0.07},{"kb":9558.1,"rate":0.52},{"kb":9558.8,"rate":0.07},{"kb":9559.9,"rate":1.19},{"kb":9560.9,"rate":0.04},{"kb":9564.5,"rate":0.04},{"kb":9565.2,"rate":0.52},{"kb":9566.7,"rate":0.04},
      {"kb":9573.5,"rate":0.04},{"kb":9574.6,"rate":2.88},{"kb":9575.8,"rate":0.04},{"kb":9578.4,"rate":1.42},{"kb":9579.1,"rate":0.04},{"kb":9580.1,"rate":0.65},{"kb":9580.8,"rate":0.04},{"kb":9582.9,"rate":0.75},{"kb":9583.7,"rate":0.04},{"kb":9586.5,"rate":0.04},
      {"kb":9587.2,"rate":0.78},{"kb":9588.2,"rate":0.07},{"kb":9590.4,"rate":4.28},{"kb":9591.3,"rate":0.07},{"kb":9592.7,"rate":0.17},{"kb":9594.2,"rate":2.09},{"kb":9595.0,"rate":0.11},{"kb":9597.6,"rate":0.52},{"kb":9598.3,"rate":0.11},{"kb":9602.3,"rate":0.11},
      {"kb":9605.5,"rate":5.09},{"kb":9606.3,"rate":0.11},{"kb":9609.6,"rate":0.17},{"kb":9610.8,"rate":1.19},{"kb":9611.9,"rate":0.17},{"kb":9613.0,"rate":1.42},{"kb":9614.2,"rate":0.17},{"kb":9615.5,"rate":4.37},{"kb":9616.4,"rate":0.87},{"kb":9621.1,"rate":0.81},
      {"kb":9622.1,"rate":0.84},{"kb":9622.6,"rate":0.10},{"kb":9629.4,"rate":0.10},{"kb":9629.8,"rate":2.38},{"kb":9630.5,"rate":0.10},{"kb":9641.8,"rate":0.10},{"kb":9643.0,"rate":0.20},{"kb":9644.1,"rate":0.10},{"kb":9646.0,"rate":1.10},{"kb":9646.8,"rate":0.10},
      {"kb":9650.3,"rate":0.10},{"kb":9651.1,"rate":1.48},{"kb":9651.7,"rate":0.10},{"kb":9658.8,"rate":0.10},{"kb":9661.6,"rate":0.42},{"kb":9662.7,"rate":0.30},{"kb":9671.8,"rate":0.30},{"kb":9675.7,"rate":0.21},{"kb":9681.4,"rate":0.26},{"kb":9682.7,"rate":1.23},
      {"kb":9684.2,"rate":0.13},{"kb":9689.9,"rate":0.13},{"kb":9697.4,"rate":0.13},{"kb":9698.3,"rate":0.36},{"kb":9702.1,"rate":0.39},{"kb":9703.0,"rate":0.20},{"kb":9711.3,"rate":0.20},{"kb":9712.4,"rate":1.09},{"kb":9715.3,"rate":0.23},{"kb":9721.9,"rate":0.20},
      {"kb":9724.3,"rate":0.97},{"kb":9725.6,"rate":0.55},{"kb":9729.4,"rate":0.49},{"kb":9730.0,"rate":0.57},{"kb":9731.5,"rate":5.88},{"kb":9732.2,"rate":0.65},{"kb":9733.9,"rate":0.69},{"kb":9734.9,"rate":2.85},{"kb":9736.3,"rate":0.71},{"kb":9737.9,"rate":0.65},
      {"kb":9743.5,"rate":0.65},{"kb":9744.5,"rate":1.71},{"kb":9745.4,"rate":0.39},{"kb":9747.5,"rate":0.10},{"kb":9749.2,"rate":0.10},{"kb":9749.7,"rate":2.56},{"kb":9750.6,"rate":0.10},{"kb":9753.7,"rate":0.10},{"kb":9754.8,"rate":0.36},{"kb":9755.9,"rate":0.10},
      {"kb":9757.5,"rate":1.63},{"kb":9758.2,"rate":0.10},{"kb":9760.5,"rate":0.10},{"kb":9761.6,"rate":4.14},{"kb":9762.4,"rate":0.10},{"kb":9764.2,"rate":2.13},{"kb":9765.0,"rate":0.10},{"kb":9767.8,"rate":0.10},{"kb":9768.8,"rate":1.18},{"kb":9769.5,"rate":0.10},
      {"kb":9772.9,"rate":0.10},{"kb":9774.0,"rate":5.51},{"kb":9774.9,"rate":0.10},{"kb":9776.4,"rate":0.59},{"kb":9779.3,"rate":0.91},{"kb":9780.2,"rate":0.10},{"kb":9781.4,"rate":0.59},{"kb":9783.1,"rate":0.10},{"kb":9785.9,"rate":0.10},{"kb":9786.6,"rate":15.54},
      {"kb":9787.6,"rate":0.10},{"kb":9789.8,"rate":1.45},{"kb":9791.0,"rate":0.10},{"kb":9794.3,"rate":0.10},{"kb":9796.3,"rate":1.82},{"kb":9797.2,"rate":0.10},{"kb":9799.4,"rate":0.10},{"kb":9800.3,"rate":2.01},{"kb":9801.1,"rate":0.10},{"kb":9807.3,"rate":0.10},
      {"kb":9811.3,"rate":0.23},{"kb":9814.1,"rate":0.23},{"kb":9815.2,"rate":0.10},{"kb":9816.9,"rate":0.23},{"kb":9818.1,"rate":0.10},{"kb":9819.8,"rate":0.07},{"kb":9845.2,"rate":0.07},{"kb":9846.9,"rate":0.13},{"kb":9849.1,"rate":1.45},{"kb":9850.3,"rate":0.19},
      {"kb":9853.7,"rate":0.20}
    ],
    "labels": [
      {"snp":"rs3775948","kb":9617.6,"logp":9.11},
      {"snp":"rs7663032","kb":9613.0,"logp":8.81},
      {"snp":"rs6856396","kb":9648.0,"logp":8.50},
      {"snp":"rs6449213","kb":9617.6,"logp":8.05}
    ],
    "genes": [
      {"gene":"DRD5","label":"D\u2009R\u2009D\u20095","mid":9393.0,"tip":9394.4,"tail":null,"strand":"+"},
      {"gene":"SLC2A9","label":"S\u2009L\u2009C\u20092\u2009A\u20099","mid":9543.8,"tip":9435.3,"tail":9650.9,"strand":"-"},
      {"gene":"WDR1","label":"W\u2009D\u2009R\u20091","mid":9705.9,"tip":9683.4,"tail":9727.6,"strand":"-"}
    ],
    "caption": [
      {"line":1,"part":"head","text":"Figure 2 Local genetic architecture"},
      {"line":1,"part":"tail","text":". Association p-values from multiple linear regression are shown based on physical position (NCBI build 36,"},
      {"line":2,"part":"body","text":"dbSNP build 126). The light blue curve depicts the recombination rate from the combined Hap Map Phase II data. Linkage disequilibrium based"},
      {"line":3,"part":"body","text":"on the HUFS sample is color-coded red for r² to the top SNP ≥ 0.8, orange for r² < 0.8 and ≥ 0.5, blue for r² < 0.5 and ≥ 0.2, and gray for r² <"},
      {"line":4,"part":"body","text":"0.20. Green arrows indicate the direction of transcription."}
    ]
  },
  "layer": [
    {
      "layer": [
        {
          "data": {"values": [{"frame": "outer"}]},
          "mark": {"type": "rect", "fill": "transparent", "stroke": "#555555", "strokeWidth": 1.5, "cornerRadius": 12},
          "encoding": {
            "x": {"datum": 9240.5, "type": "quantitative", "axis": null},
            "x2": {"datum": 9965.2},
            "y": {"datum": 10.66, "type": "quantitative"},
            "y2": {"datum": -4.37}
          }
        },
        {
          "data": {"name": "snps"},
          "mark": {"type": "circle", "size": 95, "opacity": 1},
          "encoding": {
            "x": {
              "field": "kb",
              "type": "quantitative",
              "scale": {"domain": [9334, 9874], "nice": false, "zero": false},
              "axis": {
                "values": [9354, 9604, 9854],
                "format": "d",
                "tickSize": 19,
                "labelFontSize": 24,
                "labelBaseline": "alphabetic",
                "labelPadding": 50,
                "title": "Chromosome 4 position (kb)",
                "titleFontSize": 32,
                "titleBaseline": "alphabetic",
                "titleY": 108.5
              }
            },
            "y": {
              "field": "logp",
              "type": "quantitative",
              "scale": {"domain": [-1.44, 10.44], "nice": false, "zero": false},
              "axis": {
                "values": [0, 2, 4, 6, 8, 10],
                "format": "d",
                "tickSize": 20,
                "labelFontSize": 32,
                "labelAngle": 270,
                "labelAlign": "center",
                "labelBaseline": "alphabetic",
                "labelPadding": 26,
                "title": "−log₁₀(p)",
                "titleFontSize": 32,
                "titleAngle": 270,
                "titleAlign": "center",
                "titleBaseline": "alphabetic",
                "titleX": -122.5,
                "titleY": 479
              }
            },
            "color": {
              "field": "ld",
              "type": "nominal",
              "scale": {"domain": ["<0.2", "0.2-0.5", "0.5-0.8", ">=0.8"], "range": ["#BEBEBE", "#0000FF", "#FFA500", "#FF0000"]},
              "legend": null
            }
          }
        },
        {
          "data": {"name": "labels"},
          "mark": {"type": "text", "align": "left", "baseline": "middle", "fontSize": 24, "color": "#FF0000"},
          "encoding": {
            "x": {"field": "kb", "type": "quantitative", "axis": null},
            "y": {"field": "logp", "type": "quantitative"},
            "text": {"field": "snp"}
          }
        },
        {
          "data": {"name": "genes"},
          "mark": {"type": "text", "align": "center", "baseline": "middle", "fontSize": 22, "fontStyle": "italic", "color": "#006400"},
          "encoding": {
            "x": {"field": "mid", "type": "quantitative", "axis": null},
            "y": {"datum": -0.51, "type": "quantitative"},
            "text": {"field": "label"}
          }
        },
        {
          "data": {"name": "genes"},
          "transform": [{"filter": "datum.tail != null"}],
          "mark": {"type": "rule", "color": "#006400", "strokeWidth": 2},
          "encoding": {
            "x": {"field": "tip", "type": "quantitative", "axis": null},
            "x2": {"field": "tail"},
            "y": {"datum": -0.9, "type": "quantitative"}
          }
        },
        {
          "data": {"name": "genes"},
          "mark": {"type": "point", "filled": false, "size": 144, "strokeWidth": 2, "color": "#006400", "opacity": 1},
          "encoding": {
            "x": {"field": "tip", "type": "quantitative", "axis": null},
            "y": {"datum": -0.9, "type": "quantitative"},
            "shape": {
              "field": "strand",
              "type": "nominal",
              "scale": {"domain": ["+", "-"], "range": ["M-1.7,-0.85L0,0L-1.7,0.85", "M1.9,-0.8L0,0L1.9,0.8"]},
              "legend": null
            }
          }
        }
      ]
    },
    {
      "data": {"name": "recomb"},
      "mark": {"type": "line", "color": "#87CEEB", "strokeWidth": 2, "strokeJoin": "round"},
      "encoding": {
        "x": {"field": "kb", "type": "quantitative", "axis": null},
        "y": {
          "field": "rate",
          "type": "quantitative",
          "scale": {"domain": [-1.68, 16.68], "nice": false, "zero": false},
          "axis": {
            "orient": "right",
            "values": [0, 4, 8, 12, 16],
            "format": "d",
            "tickSize": 20,
            "labelFontSize": 32,
            "labelAngle": 270,
            "labelAlign": "center",
            "labelBaseline": "alphabetic",
            "labelPadding": 47,
            "title": "Recombination rate (cM / Mb)",
            "titleFontSize": 32,
            "titleAngle": 270,
            "titleAlign": "center",
            "titleBaseline": "alphabetic",
            "titleX": 141,
            "titleY": 450
          }
        }
      }
    },
    {
      "data": {"name": "caption"},
      "encoding": {
        "y": {"field": "line", "type": "quantitative", "scale": {"domain": [1, 4], "range": [1092, 1171], "nice": false, "zero": false}, "axis": null}
      },
      "layer": [
        {
          "transform": [{"filter": "datum.part == 'head'"}],
          "mark": {"type": "text", "align": "left", "baseline": "middle", "font": "Liberation Sans", "fontWeight": "bold", "fontSize": 19.5, "color": "#231F20"},
          "encoding": {"x": {"datum": 9249.8, "type": "quantitative", "axis": null}, "text": {"field": "text"}}
        },
        {
          "transform": [{"filter": "datum.part == 'tail'"}],
          "mark": {"type": "text", "align": "left", "baseline": "middle", "font": "Liberation Sans", "fontSize": 19.5, "color": "#231F20"},
          "encoding": {"x": {"datum": 9432.3, "type": "quantitative", "axis": null}, "text": {"field": "text"}}
        },
        {
          "transform": [{"filter": "datum.part == 'body'"}],
          "mark": {"type": "text", "align": "left", "baseline": "middle", "font": "Liberation Sans", "fontSize": 19.5, "color": "#231F20"},
          "encoding": {"x": {"datum": 9249.8, "type": "quantitative", "axis": null}, "text": {"field": "text"}}
        }
      ]
    }
  ],
  "resolve": {"scale": {"y": "independent"}},
  "config": {
    "font": "Liberation Sans",
    "view": {"stroke": "black", "strokeWidth": 2},
    "axis": {
      "grid": false,
      "domain": false,
      "ticks": true,
      "tickColor": "black",
      "tickWidth": 1.3,
      "labelColor": "black",
      "titleColor": "black",
      "labelFont": "Liberation Sans",
      "titleFont": "Liberation Sans",
      "titleFontWeight": "normal"
    }
  }
}
